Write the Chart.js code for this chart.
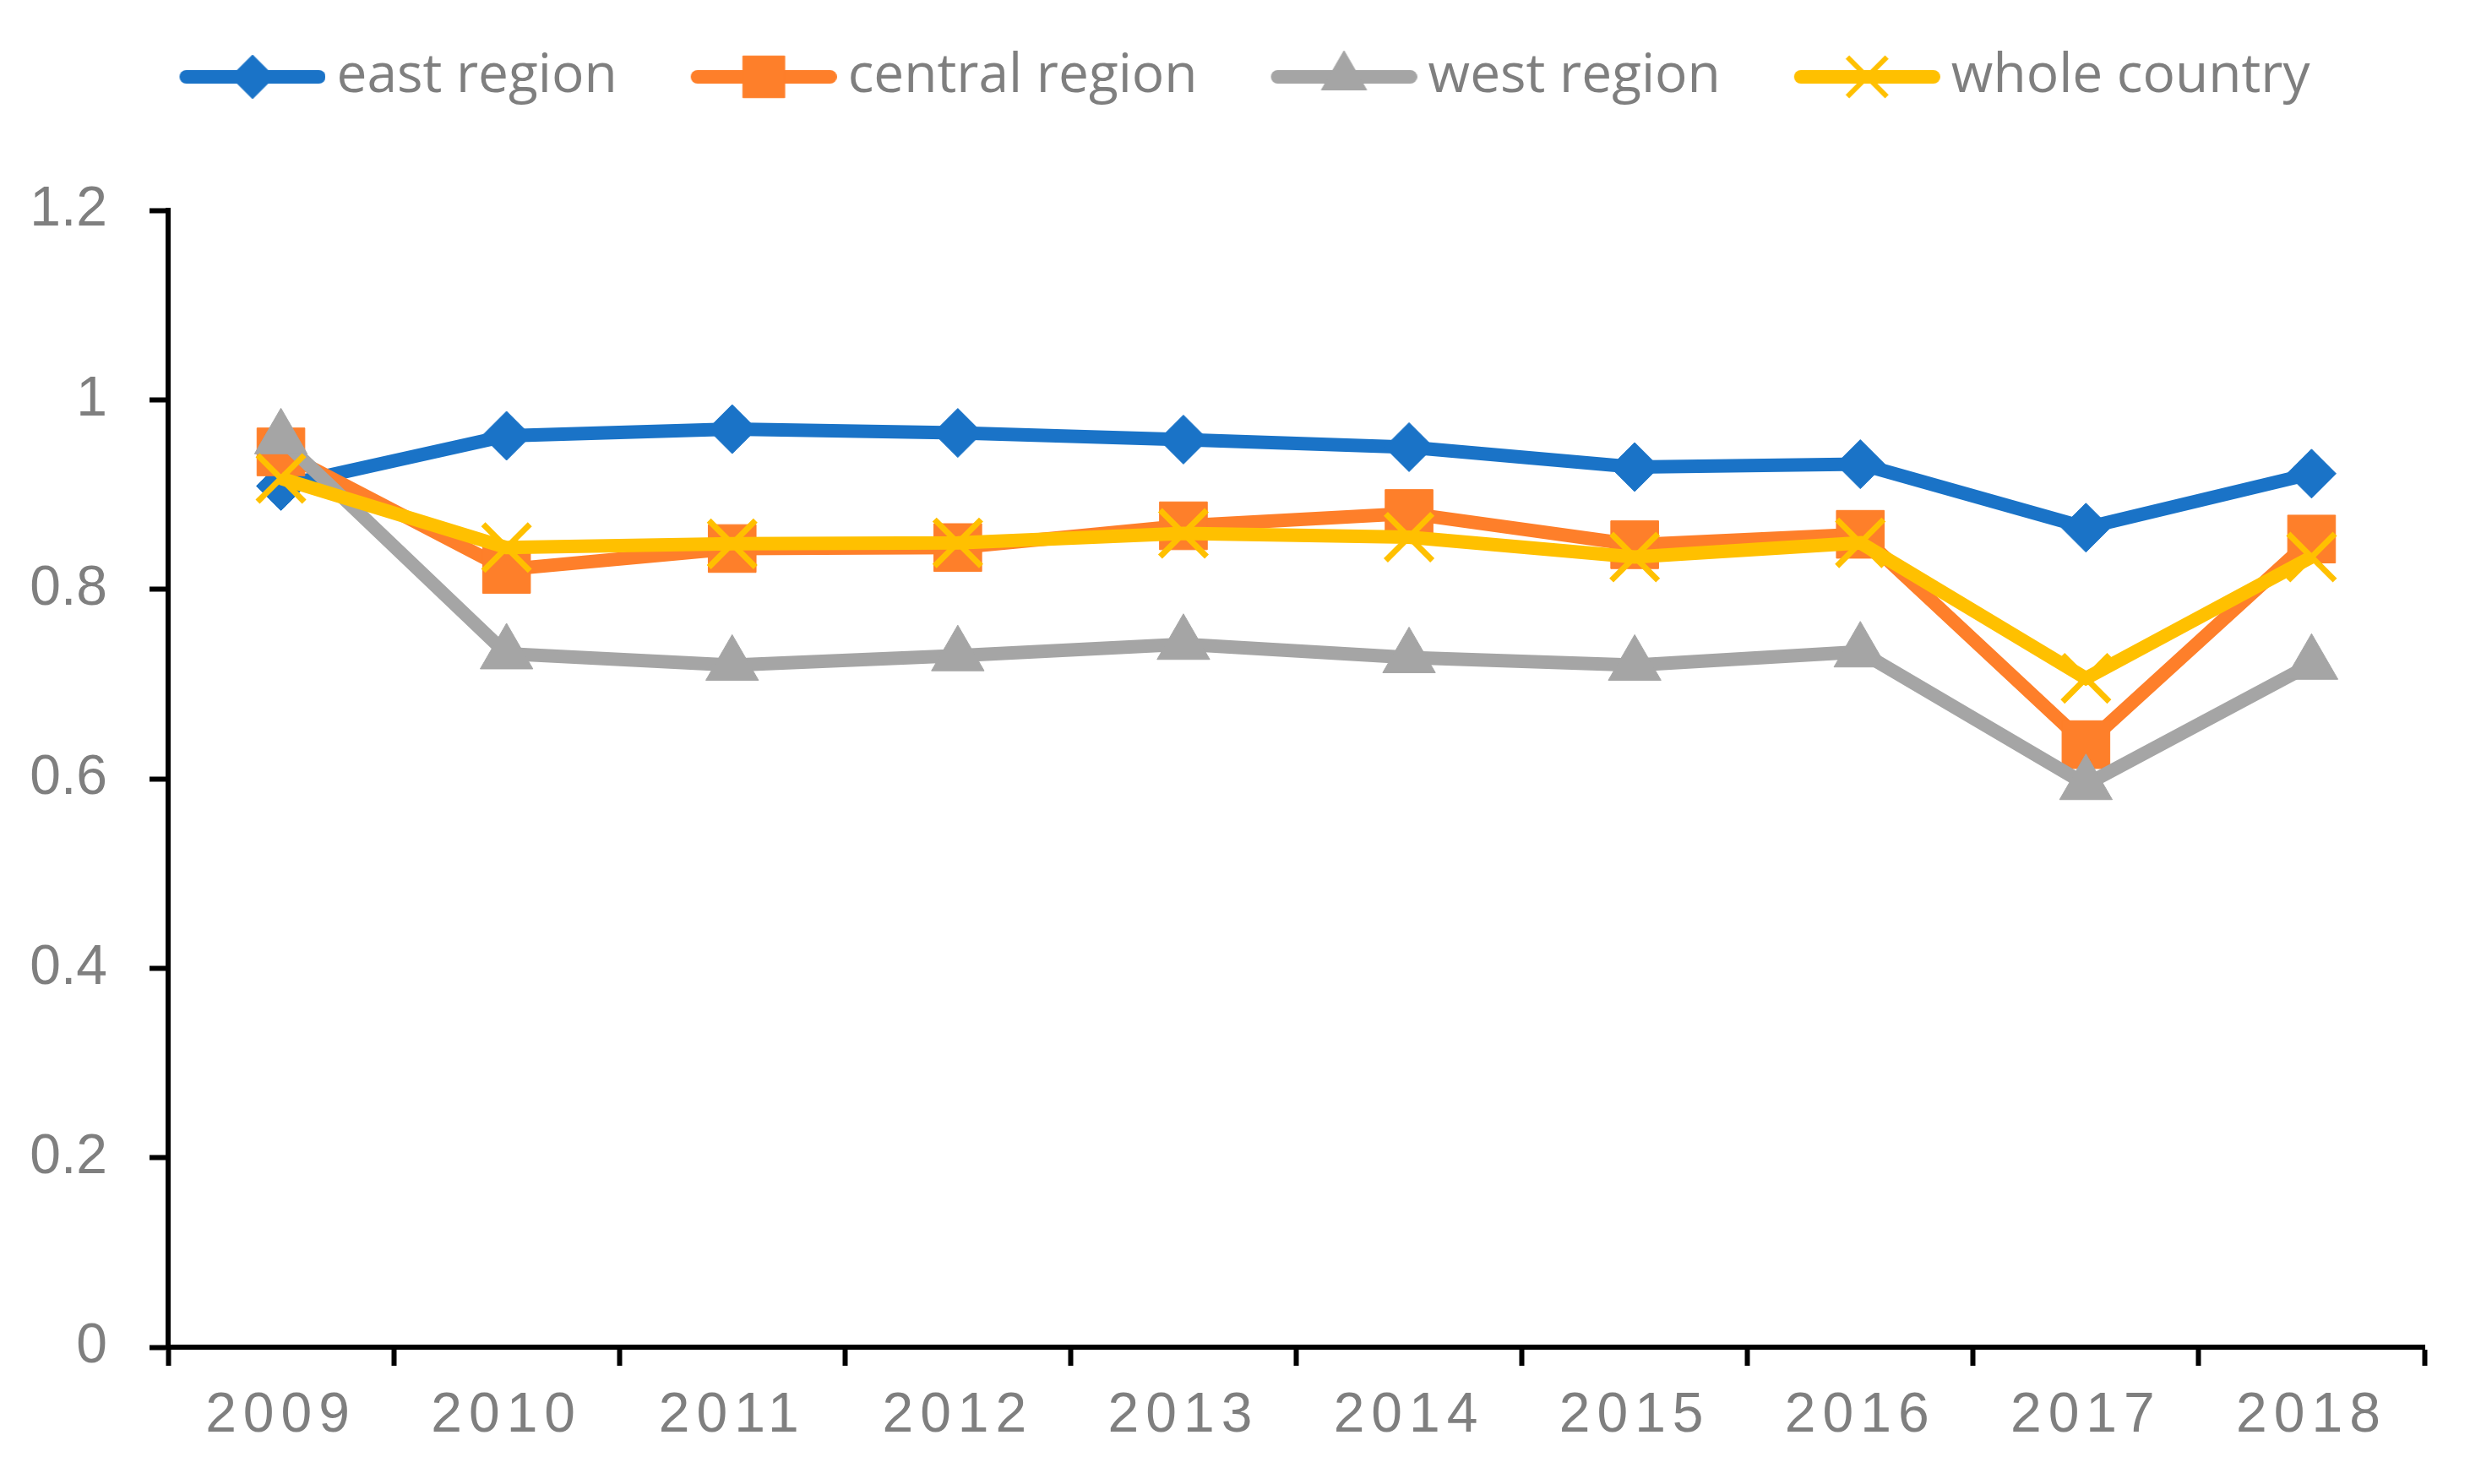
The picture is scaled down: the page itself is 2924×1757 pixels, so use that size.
<!DOCTYPE html>
<html>
<head>
<meta charset="utf-8">
<script src="https://cdn.jsdelivr.net/npm/chart.js@4.4.1/dist/chart.umd.min.js"></script>
<style>
  html, body { margin: 0; padding: 0; background: #fff; }
  canvas { display: block; }
</style>
</head>
<body>
<canvas id="regionChart" width="2924" height="1757"></canvas>
<script>
// Data
const years = ['2009', '2010', '2011', '2012', '2013', '2014', '2015', '2016', '2017', '2018'];
const eastRegion = [0.909, 0.962, 0.969, 0.965, 0.958, 0.950, 0.929, 0.932, 0.865, 0.922];
const centralRegion = [0.945, 0.821, 0.843, 0.844, 0.867, 0.880, 0.847, 0.858, 0.636, 0.853];
const westRegion = [0.959, 0.732, 0.720, 0.730, 0.742, 0.728, 0.720, 0.734, 0.594, 0.721];
const wholeCountry = [0.917, 0.844, 0.848, 0.849, 0.859, 0.855, 0.834, 0.849, 0.706, 0.834];
const yTickLabels = ['0', '0.2', '0.4', '0.6', '0.8', '1', '1.2'];

const seriesNames = ['east region', 'central region', 'west region', 'whole country'];
const seriesColors = ['#1A73C7', '#FE7F2A', '#A5A5A5', '#FFC000'];

const textGray = '#7F7F7F';

// Legend symbol: a short line with the marker in the middle
function legendIcon(color, style, radius, borderWidth) {
  const c = document.createElement('canvas');
  c.width = 269;
  c.height = 64;
  const g = c.getContext('2d');
  g.strokeStyle = color;
  g.fillStyle = color;
  g.lineCap = 'round';
  g.lineWidth = 16;
  g.beginPath();
  g.moveTo(104, 32);
  g.lineTo(261, 32);
  g.stroke();
  g.lineWidth = borderWidth;
  g.lineCap = 'butt';
  Chart.helpers.drawPoint(g, { pointStyle: style, radius: radius, rotation: 0, borderWidth: borderWidth }, 182.5, 32);
  return c;
}

const legendIcons = [
  legendIcon(seriesColors[0], 'rectRot', 26, 1),
  legendIcon(seriesColors[1], 'rect', 35, 1),
  legendIcon(seriesColors[2], 'triangle', 31, 1),
  legendIcon(seriesColors[3], 'crossRot', 33, 6)
];

// x labels are drawn with wider letter spacing
const spacedLabels = {
  id: 'spacedLabels',
  afterUpdate(chart) {
    const scale = chart.scales.x;
    if (scale && !scale._spaced) {
      const orig = scale.drawLabels;
      scale.drawLabels = function(area) {
        const ctx = this.ctx;
        ctx.save();
        ctx.letterSpacing = '8px';
        orig.call(this, area);
        ctx.restore();
      };
      scale._spaced = true;
    }
  }
};

function makeDataset(i, data, style, radius, pointBorderWidth, order) {
  return {
    label: seriesNames[i],
    data: data,
    borderColor: seriesColors[i],
    backgroundColor: seriesColors[i],
    borderWidth: 16,
    tension: 0,
    pointStyle: style,
    pointRadius: radius,
    pointHoverRadius: radius,
    pointBackgroundColor: seriesColors[i],
    pointBorderColor: seriesColors[i],
    pointBorderWidth: pointBorderWidth,
    order: order
  };
}

new Chart(document.getElementById('regionChart'), {
  type: 'line',
  data: {
    labels: years,
    datasets: [
      makeDataset(0, eastRegion, 'rectRot', 29, 1, 4),
      makeDataset(1, centralRegion, 'rect', 40, 1, 3),
      makeDataset(2, westRegion, 'triangle', 36, 1, 2),
      makeDataset(3, wholeCountry, 'crossRot', 39, 7, 1)
    ]
  },
  plugins: [spacedLabels],
  options: {
    responsive: false,
    devicePixelRatio: 1,
    animation: false,
    layout: { padding: { top: 49, right: 54, left: 0, bottom: 0 } },
    plugins: {
      tooltip: { enabled: false },
      legend: {
        position: 'top',
        labels: {
          usePointStyle: true,
          pointStyleWidth: 231,
          padding: 10,
          color: textGray,
          font: { family: 'Open Sans', size: 64 },
          sort: (a, b) => a.datasetIndex - b.datasetIndex,
          generateLabels(chart) {
            const items = Chart.defaults.plugins.legend.labels.generateLabels(chart);
            items.forEach(it => { it.pointStyle = legendIcons[it.datasetIndex]; });
            return items;
          }
        }
      },
      subtitle: {
        display: true,
        text: '',
        weight: 500,
        padding: { top: 20, bottom: 72 },
        font: { size: 20 }
      }
    },
    scales: {
      x: {
        offset: true,
        afterFit(scale) { scale.height = 162; },
        grid: {
          offset: true,
          drawOnChartArea: false,
          tickLength: 22,
          tickWidth: 6,
          tickColor: '#000'
        },
        border: { display: true, color: '#000', width: 6 },
        ticks: {
          color: textGray,
          padding: 20,
          maxRotation: 0,
          font: { family: 'Liberation Sans', size: 66 }
        }
      },
      y: {
        min: 0,
        max: 1.2,
        afterFit(scale) { scale.width = 199; },
        grid: {
          drawOnChartArea: false,
          tickLength: 22,
          tickWidth: 6,
          tickColor: '#000'
        },
        border: { display: true, color: '#000', width: 6 },
        ticks: {
          stepSize: 0.2,
          color: textGray,
          padding: 50,
          font: { family: 'Liberation Sans', size: 66 },
          callback: (value, index) => yTickLabels[index]
        }
      }
    }
  }
});
</script>
</body>
</html>
